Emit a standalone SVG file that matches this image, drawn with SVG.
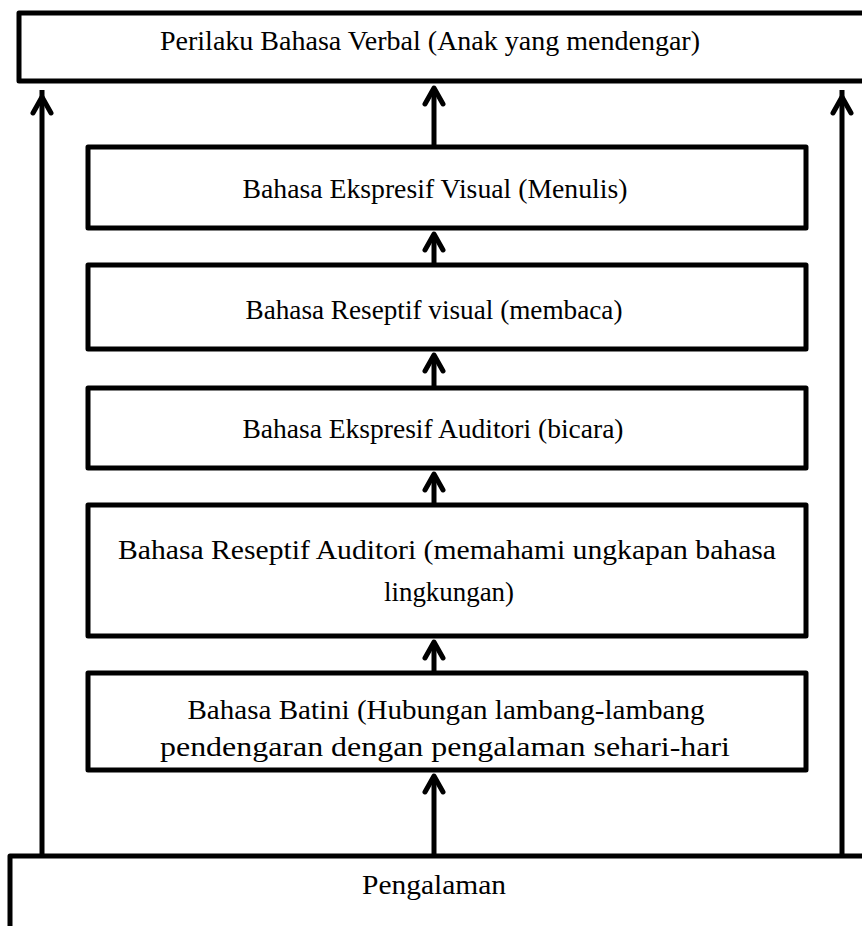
<svg xmlns="http://www.w3.org/2000/svg" width="862" height="926" viewBox="0 0 862 926">
<defs>
<style>
.box{fill:#fff;stroke:#000;stroke-width:5;stroke-linejoin:round}
.t{font-family:"Liberation Serif","Times New Roman",serif;font-size:28px;fill:#000;text-anchor:middle}
.c{stroke:#000;stroke-width:5;fill:none}
.h{stroke:#000;stroke-width:5;fill:none;stroke-linecap:round;stroke-linejoin:round}
</style>
</defs>
<rect width="862" height="926" fill="#fff"/>
<g id="connectors">
<line class="c" x1="42" y1="856" x2="42" y2="90"/><polyline class="h" points="33,113 42,97 51,113"/>
<line class="c" x1="842" y1="856" x2="842" y2="90"/><polyline class="h" points="833,113 842,97 851,113"/>
<line class="c" x1="434" y1="147" x2="434" y2="90"/><polyline class="h" points="425,104 434,88 443,104"/>
<line class="c" x1="434" y1="265" x2="434" y2="236"/><polyline class="h" points="425,250 434,234 443,250"/>
<line class="c" x1="434" y1="388" x2="434" y2="357"/><polyline class="h" points="425,371 434,355 443,371"/>
<line class="c" x1="434" y1="505" x2="434" y2="476"/><polyline class="h" points="425,490 434,474 443,490"/>
<line class="c" x1="434" y1="673" x2="434" y2="644"/><polyline class="h" points="425,658 434,642 443,658"/>
<line class="c" x1="434" y1="856" x2="434" y2="778"/><polyline class="h" points="425,792 434,776 443,792"/>
</g>
<g id="n1"><rect class="box" x="19" y="13" width="850" height="68"/><text class="t" x="430" y="50" textLength="540" lengthAdjust="spacingAndGlyphs">Perilaku Bahasa Verbal (Anak yang mendengar)</text></g>
<g id="n2"><rect class="box" x="88" y="147" width="718" height="81"/><text class="t" x="435" y="198" textLength="385" lengthAdjust="spacingAndGlyphs">Bahasa Ekspresif Visual (Menulis)</text></g>
<g id="n3"><rect class="box" x="88" y="265" width="718" height="84"/><text class="t" x="434" y="319" textLength="377" lengthAdjust="spacingAndGlyphs">Bahasa Reseptif visual (membaca)</text></g>
<g id="n4"><rect class="box" x="88" y="388" width="718" height="80"/><text class="t" x="433" y="438" textLength="381" lengthAdjust="spacingAndGlyphs">Bahasa Ekspresif Auditori (bicara)</text></g>
<g id="n5"><rect class="box" x="88" y="505" width="718" height="131"/><text class="t" x="447" y="559" textLength="658" lengthAdjust="spacingAndGlyphs">Bahasa Reseptif Auditori (memahami ungkapan bahasa</text><text class="t" x="449" y="601" textLength="130" lengthAdjust="spacingAndGlyphs">lingkungan)</text></g>
<g id="n6"><rect class="box" x="88" y="673" width="718" height="97"/><text class="t" x="446" y="719" textLength="517" lengthAdjust="spacingAndGlyphs">Bahasa Batini (Hubungan lambang-lambang</text><text class="t" x="445" y="756" textLength="570" lengthAdjust="spacingAndGlyphs">pendengaran dengan pengalaman sehari-hari</text></g>
<g id="n7"><rect class="box" x="10" y="856" width="860" height="80"/><text class="t" x="434" y="894" textLength="144" lengthAdjust="spacingAndGlyphs">Pengalaman</text></g>
</svg>
